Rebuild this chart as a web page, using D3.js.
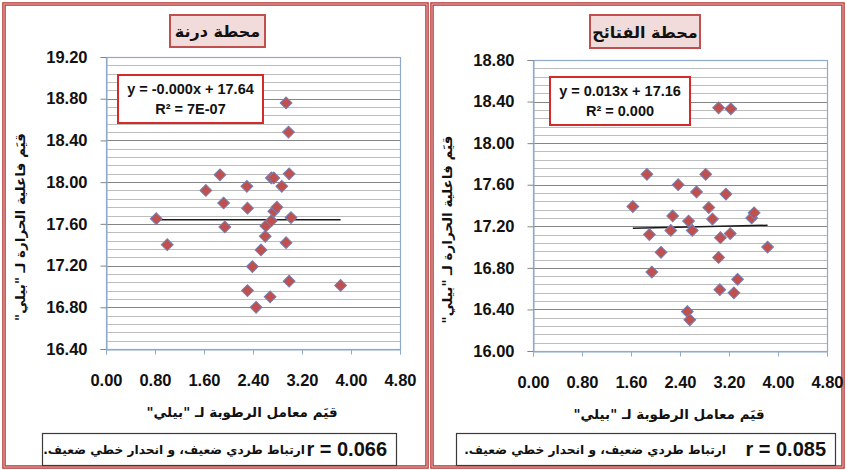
<!DOCTYPE html>
<html>
<head>
<meta charset="utf-8">
<script src="https://cdn.jsdelivr.net/npm/d3@7/dist/d3.min.js"></script>
<style>
  html, body { margin: 0; padding: 0; background: #ffffff; }
  svg { display: block; }
  .num { font-family: "Liberation Sans", Arial, sans-serif; font-weight: bold; }
  .ar { font-family: "DejaVu Sans", sans-serif; font-weight: bold; }
</style>
</head>
<body>
<svg id="chart" width="847" height="470"></svg>
<script>
// Humidity coefficient (x) vs. thermal efficiency (y), Bailey indices
const darnaHumidity = [0.82, 1.00, 1.63, 1.86, 1.92, 1.94, 2.30, 2.31, 2.31, 2.39, 2.45, 2.53, 2.60, 2.61,
                       2.68, 2.70, 2.70, 2.74, 2.74, 2.79, 2.87, 2.94, 2.94, 2.98, 2.99, 2.99, 3.02, 3.83];
const darnaThermal  = [17.65, 17.40, 17.92, 18.07, 17.80, 17.57, 17.96, 17.75, 16.96, 17.19, 16.80, 17.35, 17.48, 17.58,
                       16.90, 17.63, 18.04, 17.72, 18.04, 17.76, 17.96, 17.42, 18.76, 18.48, 18.08, 17.05, 17.66, 17.01];

const fatayehHumidity = [1.63, 1.86, 1.90, 1.94, 2.09, 2.25, 2.28, 2.37, 2.52, 2.54, 2.56, 2.60, 2.67, 2.82,
                         2.87, 2.93, 3.03, 3.03, 3.05, 3.06, 3.15, 3.22, 3.23, 3.28, 3.34, 3.57, 3.61, 3.83];
const fatayehThermal  = [17.39, 17.70, 17.12, 16.76, 16.95, 17.16, 17.30, 17.60, 16.38, 17.25, 16.30, 17.16, 17.53, 17.70,
                         17.38, 17.27, 18.34, 16.90, 16.59, 17.09, 17.51, 17.13, 18.33, 16.56, 16.69, 17.28, 17.33, 17.00];

const xTickValues = [0, 0.8, 1.6, 2.4, 3.2, 4.0, 4.8];
const darnaYTicks = [16.4, 16.8, 17.2, 17.6, 18.0, 18.4, 18.8, 19.2];
const fatayehYTicks = [16.0, 16.4, 16.8, 17.2, 17.6, 18.0, 18.4, 18.8];

// Linear trend y = slope * x + intercept
const darnaTrend = { slope: -0.000, intercept: 17.64 };
const fatayehTrend = { slope: 0.013, intercept: 17.16 };

const stationTitles = ["محطة درنة", "محطة الفتائح"];
const equationLines = [["y = -0.000x + 17.64", "R² = 7E-07"], ["y = 0.013x + 17.16", "R² = 0.000"]];
const rValues = ["r = 0.066", "r = 0.085"];
const verdictText = "ارتباط طردي ضعيف، و انحدار خطي ضعيف.";
const xTitle = "قيَم معامل الرطوبة لـ \"بيلي\"";
const yTitle = "قيَم فاعلية الحرارة لـ \"بيلي\"";

const svg = d3.select("#chart");

const panels = [
  { frame: [4, 4, 423, 463], plot: [106, 57, 400, 349], yTicks: darnaYTicks,
    xs: darnaHumidity, ys: darnaThermal, trend: darnaTrend,
    titleBox: [170, 15, 95, 32], eqBox: [118, 75, 145, 48], rBox: [42, 433, 354, 32],
    verdictRight: 305, yTitleX: 20 },
  { frame: [432, 4, 411, 463], plot: [533, 60, 827, 351], yTicks: fatayehYTicks,
    xs: fatayehHumidity, ys: fatayehThermal, trend: fatayehTrend,
    titleBox: [590, 15, 110, 33], eqBox: [550, 77, 140, 48], rBox: [456, 433, 379, 32],
    verdictRight: 726, yTitleX: 447 }
];

panels.forEach((p, i) => {
  const g = svg.append("g");
  const [fx, fy, fw, fh] = p.frame;

  // double red frame around each station panel
  g.append("rect").attr("x", fx).attr("y", fy).attr("width", fw).attr("height", fh)
    .attr("fill", "none").attr("stroke", "#b3302e").attr("stroke-width", 3.5);
  g.append("rect").attr("x", fx).attr("y", fy).attr("width", fw).attr("height", fh)
    .attr("fill", "none").attr("stroke", "#f0c4c4").attr("stroke-width", 1);

  const [x0, y0, x1, y1] = p.plot;
  const yDom = d3.extent(p.yTicks);
  const x = d3.scaleLinear().domain([0, 4.8]).range([x0, x1]);
  const y = d3.scaleLinear().domain(yDom).range([y1, y0]);

  // plot background
  g.append("rect").attr("x", x0).attr("y", y0).attr("width", x1 - x0).attr("height", y1 - y0)
    .attr("fill", "#ffffff");

  // minor gridlines every 0.08
  const minor = d3.range(0, 36).map(k => yDom[0] + k * 0.08);
  g.append("g").selectAll("line").data(minor).join("line")
    .attr("x1", x0).attr("x2", x1)
    .attr("y1", d => Math.round(y(d)) + 0.5).attr("y2", d => Math.round(y(d)) + 0.5)
    .attr("stroke", "#bdbdbd").attr("stroke-width", 1);

  // major gridlines
  g.append("g").selectAll("line").data(p.yTicks).join("line")
    .attr("x1", x0).attr("x2", x1)
    .attr("y1", d => Math.round(y(d)) + 0.5).attr("y2", d => Math.round(y(d)) + 0.5)
    .attr("stroke", "#858585").attr("stroke-width", 1);

  // plot border
  g.append("rect").attr("x", x0 + 0.5).attr("y", y0 + 0.5).attr("width", x1 - x0).attr("height", y1 - y0)
    .attr("fill", "none").attr("stroke", "#8faacc").attr("stroke-width", 1.2);

  // y axis
  const yAxis = d3.axisLeft(y).tickValues(p.yTicks).tickFormat(d3.format(".2f"))
    .tickSize(6).tickPadding(13);
  const ya = g.append("g").attr("transform", `translate(${x0 + 0.5},0)`).call(yAxis);
  ya.select(".domain").attr("stroke", "#8faacc");
  ya.selectAll(".tick line").attr("stroke", "#858585");
  ya.selectAll(".tick text").attr("class", "num").attr("font-size", 16.5).attr("fill", "#111");

  // x axis
  const xAxis = d3.axisBottom(x).tickValues(xTickValues).tickFormat(d3.format(".2f"))
    .tickSize(5).tickPadding(20);
  const xa = g.append("g").attr("transform", `translate(0,${y1 + 0.5})`).call(xAxis);
  xa.select(".domain").attr("stroke", "#8faacc");
  xa.selectAll(".tick line").attr("stroke", "#8faacc");
  xa.selectAll(".tick text").attr("class", "num").attr("font-size", 16.5).attr("fill", "#111");

  // trend line across the data range
  const xr = d3.extent(p.xs);
  g.append("line")
    .attr("x1", x(xr[0])).attr("x2", x(xr[1]))
    .attr("y1", y(p.trend.slope * xr[0] + p.trend.intercept))
    .attr("y2", y(p.trend.slope * xr[1] + p.trend.intercept))
    .attr("stroke", "#1a1a1a").attr("stroke-width", 1.5);

  // diamond markers
  g.append("g").selectAll("path").data(p.xs.map((v, k) => [v, p.ys[k]])).join("path")
    .attr("transform", d => `translate(${x(d[0])},${y(d[1])}) rotate(45)`)
    .attr("d", d3.symbol().type(d3.symbolSquare).size(70))
    .attr("fill", "#c0504d").attr("stroke", "#7280b8").attr("stroke-width", 1);

  // station title box
  const [tx, ty, tw, th] = p.titleBox;
  g.append("rect").attr("x", tx).attr("y", ty).attr("width", tw).attr("height", th)
    .attr("fill", "#f2dcdb").attr("stroke", "#c0504d").attr("stroke-width", 2);
  g.append("text").attr("class", "ar").attr("x", tx + tw / 2).attr("y", ty + th / 2 + 6)
    .attr("text-anchor", "middle").attr("direction", "rtl").attr("font-size", 16).attr("fill", "#111")
    .text(stationTitles[i]);

  // regression equation box
  const [ex, ey, ew, eh] = p.eqBox;
  g.append("rect").attr("x", ex).attr("y", ey).attr("width", ew).attr("height", eh)
    .attr("fill", "#ffffff").attr("stroke", "#d42a2a").attr("stroke-width", 2);
  g.append("text").attr("class", "num").attr("x", ex + ew / 2).attr("y", ey + 19)
    .attr("text-anchor", "middle").attr("font-size", 14.5).attr("fill", "#111")
    .text(equationLines[i][0]);
  g.append("text").attr("class", "num").attr("x", ex + ew / 2).attr("y", ey + 39)
    .attr("text-anchor", "middle").attr("font-size", 14.5).attr("fill", "#111")
    .text(equationLines[i][1]);

  // axis titles (right-to-left)
  g.append("text").attr("class", "ar").attr("x", (x0 + x1) / 2 - 11).attr("y", y1 + 68)
    .attr("text-anchor", "middle").attr("direction", "rtl").attr("font-size", 13.5).attr("fill", "#111")
    .text(xTitle);
  g.append("text").attr("class", "ar")
    .attr("transform", `translate(${p.yTitleX + 5},${(y0 + y1) / 2 + 24}) rotate(-90)`)
    .attr("text-anchor", "middle").attr("direction", "rtl").attr("font-size", 13.5).attr("fill", "#111")
    .text(yTitle);

  // correlation summary box
  const [rx, ry, rw, rh] = p.rBox;
  g.append("rect").attr("x", rx + 0.5).attr("y", ry + 0.5).attr("width", rw).attr("height", rh)
    .attr("fill", "#ffffff").attr("stroke", "#3a3a3a").attr("stroke-width", 1.2);
  g.append("text").attr("class", "num").attr("x", rx + rw - 9).attr("y", ry + 23)
    .attr("text-anchor", "end").attr("font-size", 20).attr("fill", "#111")
    .text(rValues[i]);
  g.append("text").attr("class", "ar").attr("x", p.verdictRight).attr("y", ry + 21)
    .attr("text-anchor", "start").attr("direction", "rtl")
    .attr("font-size", 12.2).attr("font-weight", "normal").attr("fill", "#111")
    .text(verdictText);
});
</script>
</body>
</html>
